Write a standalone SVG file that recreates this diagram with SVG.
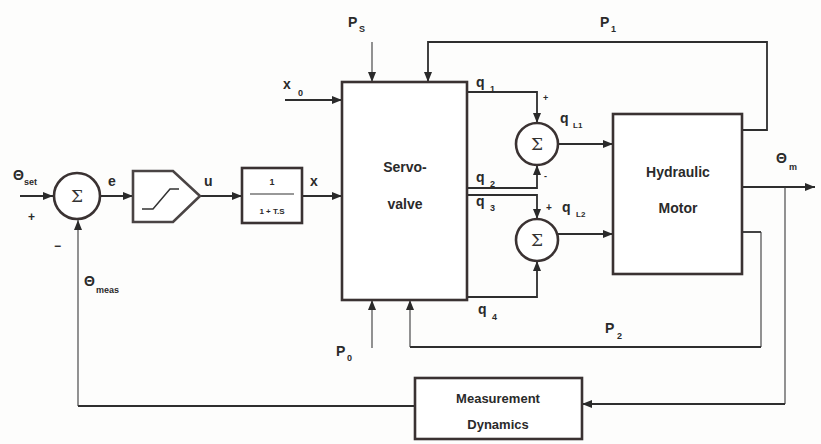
<svg xmlns="http://www.w3.org/2000/svg" width="821" height="444" viewBox="0 0 821 444">
<defs>
<marker id="ah" viewBox="0 0 10 8" refX="10" refY="4" markerWidth="10" markerHeight="8" markerUnits="userSpaceOnUse" orient="auto">
<path d="M0,0 L10,4 L0,8 z" fill="#2a2a2a"/>
</marker>
<style>
.box{fill:#fff;stroke:#3a3232;stroke-width:2.6}
.ln{fill:none;stroke:#2e2e2e;stroke-width:1.8}
.thin{fill:none;stroke:#3a3a3a;stroke-width:1.1}
.t{font-family:"Liberation Sans",Arial,sans-serif;font-weight:bold;fill:#2a2a2a}
.lb{font-size:14px}
.sb{font-size:9px}
.bt{font-size:14px;text-anchor:middle}
.sig{font-family:"DejaVu Serif","Liberation Serif",serif;font-size:17px;text-anchor:middle;fill:#333}
</style>
</defs>
<rect width="821" height="444" fill="#fdfdfc"/>

<g id="connectors">
<path class="ln" d="M20,196 H53" marker-end="url(#ah)"/>
<path class="ln" d="M100,196 H133" marker-end="url(#ah)"/>
<path class="ln" d="M200,196 H242" marker-end="url(#ah)"/>
<path class="ln" d="M302,196 H342" marker-end="url(#ah)"/>
<path class="ln" d="M285,100 H342" marker-end="url(#ah)"/>
<path class="thin" d="M372,42 V82" marker-end="url(#ah)"/>
<path class="ln" d="M742,130 H767 V42 H428 V82" marker-end="url(#ah)"/>
<path class="ln" d="M467,92 H537 V123" marker-end="url(#ah)"/>
<path class="ln" d="M467,188 H537 V165" marker-end="url(#ah)"/>
<path class="ln" d="M467,195 H537 V219" marker-end="url(#ah)"/>
<path class="ln" d="M467,297 H537 V261" marker-end="url(#ah)"/>
<path class="ln" d="M558,144 H613" marker-end="url(#ah)"/>
<path class="ln" d="M558,234 H613" marker-end="url(#ah)"/>
<path class="ln" d="M742,187 H815" marker-end="url(#ah)"/>
<path class="thin" d="M785,187 V404"/>
<path class="ln" d="M785,404 H582" marker-end="url(#ah)"/>
<path class="ln" d="M742,232 H761"/>
<path class="thin" d="M761,232 V347"/>
<path class="ln" d="M761,347 H410"/>
<path class="thin" d="M410,347 V300" marker-end="url(#ah)"/>
<path class="thin" d="M372,348 V300" marker-end="url(#ah)"/>
<path class="ln" d="M415,406 H78"/>
<path class="thin" d="M78,406 V220" marker-end="url(#ah)"/>
</g>

<g id="sum1">
<circle class="box" cx="77" cy="196" r="23"/>
<text class="sig" x="77" y="202">Σ</text>
</g>

<g id="saturation">
<path d="M133,171 H173 L200,196 L173,222 H133 Z" fill="#fff" stroke="#4a4444" stroke-width="2.6"/>
<path d="M142,209 H153 L170,189 H179" fill="none" stroke="#333" stroke-width="1.5"/>
</g>

<g id="lag">
<rect class="box" x="242" y="168" width="60" height="55"/>
<text class="t" x="272" y="185" font-size="9" text-anchor="middle">1</text>
<line x1="250" y1="194" x2="294" y2="194" stroke="#333" stroke-width="1.2"/>
<text class="t" x="272" y="214" font-size="8" text-anchor="middle">1 + T.S</text>
</g>

<g id="servovalve">
<rect class="box" x="342" y="82" width="125" height="218"/>
<text class="t bt" x="405" y="172">Servo-</text>
<text class="t bt" x="405" y="209">valve</text>
</g>

<g id="sum2">
<circle class="box" cx="537" cy="144" r="21"/>
<text class="sig" x="537" y="150">Σ</text>
</g>

<g id="sum3">
<circle class="box" cx="537" cy="240" r="21"/>
<text class="sig" x="537" y="246">Σ</text>
</g>

<g id="motor">
<rect class="box" x="613" y="114" width="129" height="160"/>
<text class="t bt" x="678" y="177">Hydraulic</text>
<text class="t bt" x="678" y="213">Motor</text>
</g>

<g id="measurement">
<rect class="box" x="415" y="378" width="167" height="61"/>
<text class="t" x="498" y="403" font-size="13" text-anchor="middle">Measurement</text>
<text class="t" x="498" y="429" font-size="13" text-anchor="middle">Dynamics</text>
</g>

<g id="labels">
<text class="t lb" x="13" y="180">Θ</text><text class="t sb" x="24" y="185">set</text>
<text class="t" x="28" y="221" font-size="12">+</text>
<text class="t" x="54" y="250" font-size="12">−</text>
<text class="t lb" x="84" y="286">Θ</text><text class="t sb" x="96" y="293">meas</text>
<text class="t lb" x="108" y="186">e</text>
<text class="t lb" x="204" y="186">u</text>
<text class="t lb" x="310" y="186">x</text>
<text class="t lb" x="283" y="89">x</text><text class="t sb" x="298" y="96">0</text>
<text class="t lb" x="348" y="27">P</text><text class="t sb" x="359" y="32">S</text>
<text class="t lb" x="600" y="27">P</text><text class="t sb" x="611" y="32">1</text>
<text class="t lb" x="476" y="87">q</text><text class="t sb" x="490" y="92">1</text>
<text class="t" x="543" y="101" font-size="9">+</text>
<text class="t lb" x="560" y="123">q</text><text class="t" x="573" y="128" font-size="8">L1</text>
<text class="t" x="544" y="179" font-size="9">-</text>
<text class="t lb" x="476" y="182">q</text><text class="t sb" x="490" y="187">2</text>
<text class="t lb" x="476" y="206">q</text><text class="t sb" x="490" y="211">3</text>
<text class="t" x="546" y="211" font-size="10">+</text>
<text class="t lb" x="562" y="212">q</text><text class="t" x="576" y="217" font-size="8">L2</text>
<text class="t lb" x="478" y="314">q</text><text class="t sb" x="492" y="320">4</text>
<text class="t lb" x="605" y="333">P</text><text class="t sb" x="617" y="339">2</text>
<text class="t lb" x="336" y="356">P</text><text class="t sb" x="347" y="361">0</text>
<text class="t lb" x="776" y="163">Θ</text><text class="t sb" x="789" y="170">m</text>
</g>
</svg>
